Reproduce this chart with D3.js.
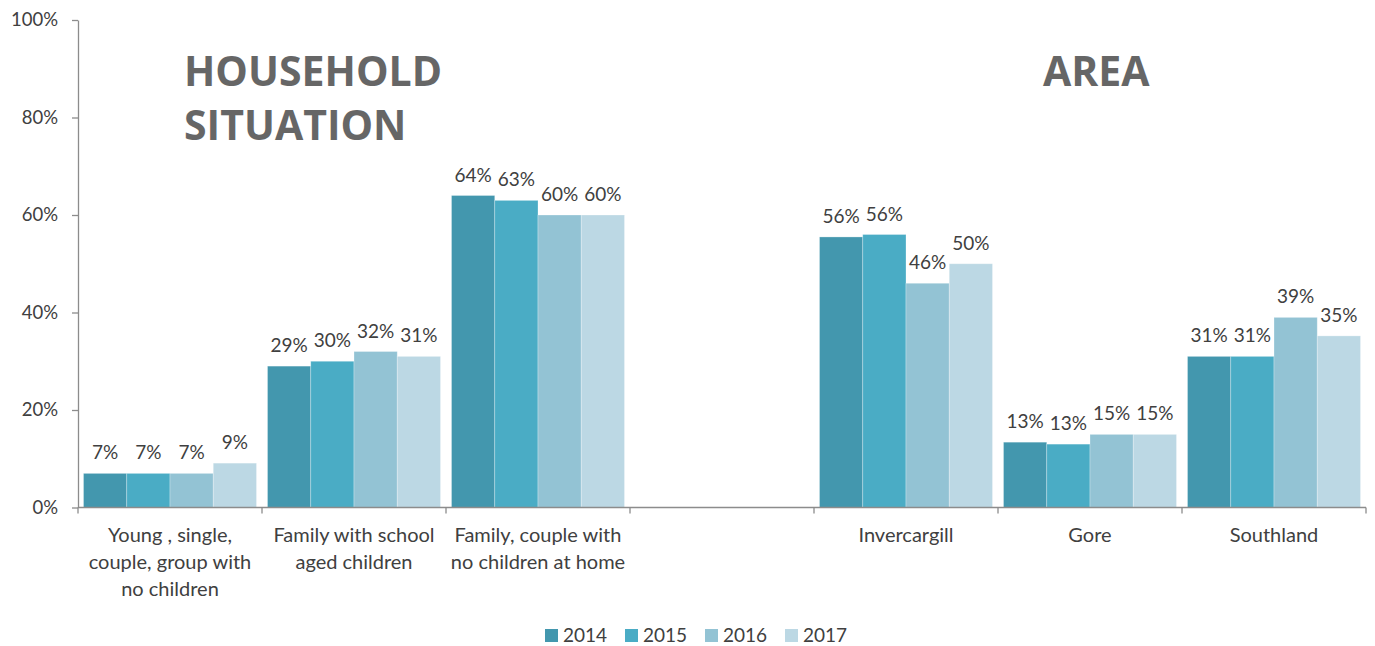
<!DOCTYPE html>
<html>
<head>
<meta charset="utf-8">
<script src="https://cdn.jsdelivr.net/npm/d3@7/dist/d3.min.js"></script>
<style>
  html, body { margin: 0; padding: 0; background: #fff; }
  svg { display: block; }
  text { font-family: "Lato", "Open Sans", sans-serif; fill: #404040; }
</style>
</head>
<body>
<svg id="chart" width="1375" height="646"></svg>
<script>
// Categories (the empty slot separates the two groups)
const categories = [
  "Young , single,|couple, group with|no children",
  "Family with school|aged children",
  "Family, couple with|no children at home",
  "",
  "Invercargill",
  "Gore",
  "Southland"
];
const years = ["2014", "2015", "2016", "2017"];
const colors = ["#4397ae", "#4aacc5", "#93c3d4", "#bcd8e4"];

// Shares per category, one array per year
const values2014 = [0.070, 0.290, 0.640, null, 0.555, 0.134, 0.310];
const values2015 = [0.070, 0.300, 0.630, null, 0.560, 0.130, 0.310];
const values2016 = [0.070, 0.320, 0.600, null, 0.460, 0.150, 0.390];
const values2017 = [0.091, 0.310, 0.600, null, 0.500, 0.150, 0.352];
const seriesValues = [values2014, values2015, values2016, values2017];

const yTicks = [0, 0.2, 0.4, 0.6, 0.8, 1.0];
const sectionTitles = [
  { lines: ["HOUSEHOLD", "SITUATION"], x: 184 },
  { lines: ["AREA"], x: 1043 }
];

const svg = d3.select("#chart");
const plotLeft = 78, plotRight = 1366, plotTop = 20, plotBottom = 507.5;

const x = d3.scaleBand().domain(d3.range(categories.length)).range([plotLeft, plotRight]).paddingInner(0).paddingOuter(0);
const x1 = d3.scaleBand().domain(years).range([5.5, x.bandwidth() - 5.5]).padding(0);
const y = d3.scaleLinear().domain([0, 1]).range([plotBottom, plotTop]);

// Y axis
const yAxis = svg.append("g").attr("transform", `translate(${plotLeft},0)`)
  .call(d3.axisLeft(y).tickValues(yTicks).tickFormat(d3.format(".0%")).tickSizeOuter(0).tickSizeInner(6).tickPadding(14));
yAxis.select(".domain").attr("stroke", "#8c8c8c").attr("stroke-width", 1.3);
yAxis.selectAll(".tick line").attr("stroke", "#8c8c8c").attr("stroke-width", 1.3);
yAxis.selectAll(".tick text").attr("font-size", 18.5).attr("fill", "#404040")
  .style("font-family", "Lato, sans-serif");

// Bars
const groups = svg.append("g").selectAll("g")
  .data(categories.map((c, i) => i))
  .join("g")
  .attr("transform", i => `translate(${x(i)},0)`);

groups.selectAll("rect")
  .data(i => years.map((yr, k) => ({ yr, k, v: seriesValues[k][i] })).filter(d => d.v != null))
  .join("rect")
  .attr("x", d => x1(d.yr))
  .attr("width", x1.bandwidth())
  .attr("y", d => y(d.v))
  .attr("height", d => plotBottom - y(d.v))
  .attr("fill", d => colors[d.k])
  .attr("stroke", "#ffffff")
  .attr("stroke-opacity", 0.35)
  .attr("stroke-width", 0.8);

groups.selectAll("text.val")
  .data(i => years.map((yr, k) => ({ yr, k, v: seriesValues[k][i] })).filter(d => d.v != null))
  .join("text")
  .attr("class", "val")
  .attr("x", d => x1(d.yr) + x1.bandwidth() / 2)
  .attr("y", d => y(d.v) - 14)
  .attr("text-anchor", "middle")
  .attr("font-size", 19)
  .text(d => d3.format(".0%")(d.v));

// X axis
const xAxis = svg.append("g").attr("transform", `translate(0,${plotBottom})`);
xAxis.append("line").attr("x1", plotLeft).attr("x2", plotRight).attr("y1", 0).attr("y2", 0)
  .attr("stroke", "#8c8c8c").attr("stroke-width", 1.3);
const tickXs = d3.range(categories.length + 1).map(i => plotLeft + i * x.bandwidth());
xAxis.selectAll("line.tk").data(tickXs).join("line").attr("class", "tk")
  .attr("x1", d => d).attr("x2", d => d).attr("y1", 0).attr("y2", 6)
  .attr("stroke", "#8c8c8c").attr("stroke-width", 1.3);

xAxis.selectAll("text.cat").data(categories.map((c, i) => ({ c, i }))).join("text")
  .attr("class", "cat")
  .attr("text-anchor", "middle")
  .attr("font-size", 20)
  .each(function(d) {
    const t = d3.select(this);
    d.c.split("|").forEach((line, j) => {
      t.append("tspan").attr("x", x(d.i) + x.bandwidth() / 2).attr("y", 34 + j * 27).text(line);
    });
  });

// Section titles
sectionTitles.forEach(s => {
  const t = svg.append("text").attr("font-size", 41).attr("font-weight", 700)
    .style("font-family", "'Open Sans', sans-serif").style("fill", "#666666");
  s.lines.forEach((line, j) => {
    t.append("tspan").attr("x", s.x).attr("y", 86 + j * 54).text(line);
  });
});

// Legend
const legend = svg.append("g").attr("transform", "translate(545,635)");
const legendX = [0, 80, 160, 240];
years.forEach((yr, k) => {
  const g = legend.append("g").attr("transform", `translate(${legendX[k]},0)`);
  g.append("rect").attr("x", 0).attr("y", -6).attr("width", 13).attr("height", 13).attr("fill", colors[k]);
  g.append("text").attr("x", 18).attr("y", 7).attr("font-size", 19).text(yr);
});
</script>
</body>
</html>
